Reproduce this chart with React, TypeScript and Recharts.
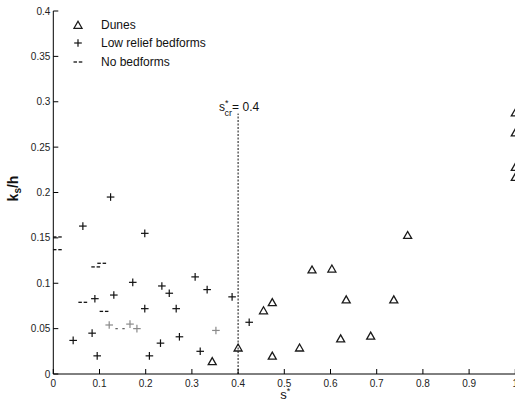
import React from 'react';
import { ScatterChart, Scatter, XAxis, YAxis, ReferenceLine, ReferenceDot, Legend } from 'recharts';

const FONT = '"Liberation Sans", Arial, Helvetica, sans-serif';

// Dunes (open triangles)
const dunes = [
  { x: 0.344, y: 0.014 }, { x: 0.400, y: 0.029 }, { x: 0.455, y: 0.070 }, { x: 0.474, y: 0.079 },
  { x: 0.474, y: 0.020 }, { x: 0.533, y: 0.029 }, { x: 0.560, y: 0.115 }, { x: 0.603, y: 0.116 },
  { x: 0.622, y: 0.039 }, { x: 0.634, y: 0.082 }, { x: 0.687, y: 0.042 }, { x: 0.737, y: 0.082 },
  { x: 0.767, y: 0.153 }, { x: 1.0, y: 0.288 }, { x: 1.0, y: 0.266 }, { x: 1.0, y: 0.228 }, { x: 1.0, y: 0.217 },
];

// Low relief bedforms (plus)
const lowRelief = [
  { x: 0.124, y: 0.195 }, { x: 0.064, y: 0.163 }, { x: 0.198, y: 0.155 }, { x: 0.172, y: 0.101 },
  { x: 0.307, y: 0.107 }, { x: 0.235, y: 0.097 }, { x: 0.251, y: 0.089 }, { x: 0.333, y: 0.093 },
  { x: 0.387, y: 0.085 }, { x: 0.131, y: 0.087 }, { x: 0.090, y: 0.083 }, { x: 0.198, y: 0.072 },
  { x: 0.266, y: 0.072 }, { x: 0.084, y: 0.045 }, { x: 0.043, y: 0.037 }, { x: 0.095, y: 0.020 },
  { x: 0.208, y: 0.020 }, { x: 0.232, y: 0.034 }, { x: 0.273, y: 0.041 }, { x: 0.318, y: 0.025 },
  { x: 0.424, y: 0.057 },
];

// Low relief bedforms drawn faint (grey plus)
const lowReliefFaint = [
  { x: 0.121, y: 0.054 }, { x: 0.166, y: 0.055 }, { x: 0.181, y: 0.050 }, { x: 0.352, y: 0.048 },
];

// No bedforms (dashes)
const noBedforms = [
  { x: 0.009, y: 0.151 }, { x: 0.009, y: 0.137 }, { x: 0.092, y: 0.118 }, { x: 0.105, y: 0.122 },
  { x: 0.064, y: 0.079 }, { x: 0.110, y: 0.069 },
];

// faint small marks
const faintMarks = [
  { x: 0.137, y: 0.050 }, { x: 0.152, y: 0.050 },
];

const xTicks = [0, 0.1, 0.2, 0.3, 0.4, 0.5, 0.6, 0.7, 0.8, 0.9, 1];
const yTicks = [0, 0.05, 0.1, 0.15, 0.2, 0.25, 0.3, 0.35, 0.4];
const criticalS = 0.4;
const criticalLineTop = 0.287;

const legendItems = [
  { label: 'Dunes', kind: 'tri' },
  { label: 'Low relief bedforms', kind: 'plus' },
  { label: 'No bedforms', kind: 'dash' },
];

const Tri = ({ cx, cy }: any) => (
  <polygon
    points={`${cx - 4},${cy + 3.3} ${cx + 4},${cy + 3.3} ${cx},${cy - 3.7}`}
    fill="none" stroke="#1a1a1a" strokeWidth={1.3} strokeLinejoin="miter"
  />
);
const Plus = ({ cx, cy, color = '#111' }: any) => (
  <g stroke={color} strokeWidth={1.2}>
    <line x1={cx - 3.8} x2={cx + 3.8} y1={cy} y2={cy} />
    <line x1={cx} x2={cx} y1={cy - 3.8} y2={cy + 3.8} />
  </g>
);
const Dash = ({ cx, cy }: any) => (
  <g stroke="#111" strokeWidth={1.3}>
    <line x1={cx - 4.5} x2={cx - 1} y1={cy} y2={cy} />
    <line x1={cx + 0.8} x2={cx + 4.3} y1={cy} y2={cy} />
  </g>
);
const TinyMark = ({ cx, cy }: any) => (
  <line x1={cx - 1.2} x2={cx + 1.2} y1={cy} y2={cy} stroke="#666" strokeWidth={1.3} />
);

const XTick = (props: any) => {
  const { x, y, payload } = props;
  return (
    <g>
      <line x1={x} x2={x} y1={y} y2={y - 5} stroke="#000" strokeWidth={1} />
      <text x={x} y={y + 13} textAnchor="middle" fontSize={10} fill="#222" fontFamily={FONT}>
        {payload.value}
      </text>
    </g>
  );
};

const YTick = (props: any) => {
  const { x, y, payload } = props;
  return (
    <g>
      <line x1={x} x2={x + 5} y1={y} y2={y} stroke="#000" strokeWidth={1} />
      <text x={x - 3} y={y} dy="0.35em" textAnchor="end" fontSize={10} fill="#222" fontFamily={FONT}>
        {payload.value}
      </text>
    </g>
  );
};

const XLabel = (props: any) => {
  const vb = props.viewBox || { x: 53, y: 374, width: 462, height: 30 };
  return (
    <text x={vb.x + vb.width / 2 + 1} y={vb.y + 25} textAnchor="middle" fontSize={13} fill="#111" fontFamily={FONT}>
      s<tspan dy={-5} fontSize={9}>*</tspan>
    </text>
  );
};

const YLabel = (props: any) => {
  const vb = props.viewBox || { x: 0, y: 11, width: 53, height: 363 };
  const cx = 18;
  const cy = vb.y + vb.height / 2 - 4;
  return (
    <text x={cx} y={cy} transform={`rotate(-90 ${cx} ${cy})`} textAnchor="middle" fontSize={14}
      fontWeight="bold" fill="#111" fontFamily={FONT}>
      k<tspan dy={3} fontSize={10}>s</tspan><tspan dy={-3}>/h</tspan>
    </text>
  );
};

const CrLabel = ({ cx, cy }: any) => (
  <text x={cx - 19} y={cy - 3} fontSize={12} fill="#111" fontFamily={FONT}>
    s<tspan dy={-5} fontSize={9}>*</tspan><tspan dx={-4} dy={10} fontSize={9}>cr</tspan><tspan dy={-5}>= 0.4</tspan>
  </text>
);

const LegendIcon = ({ kind }: { kind: string }) => (
  <svg width={16} height={16} style={{ display: 'block' }}>
    {kind === 'tri' && <Tri cx={8} cy={8} />}
    {kind === 'plus' && <Plus cx={8} cy={8} />}
    {kind === 'dash' && <Dash cx={8} cy={8} />}
  </svg>
);

const LegendContent = () => (
  <div style={{ fontFamily: FONT, fontSize: 12, color: '#111' }}>
    {legendItems.map((it) => (
      <div key={it.label} style={{ display: 'flex', alignItems: 'center', height: 18.5 }}>
        <LegendIcon kind={it.kind} />
        <span style={{ marginLeft: 15, whiteSpace: 'nowrap' }}>{it.label}</span>
      </div>
    ))}
  </div>
);

export default function App() {
  return (
    <div style={{ position: 'absolute', left: 0, top: 0, width: 515, height: 404, overflow: 'hidden', background: '#fff', fontFamily: FONT }}>
      <ScatterChart width={530} height={404} margin={{ top: 11, right: 14.7, left: 0, bottom: 0 }}>
        <XAxis
          type="number" dataKey="x" domain={[0, 1]} ticks={xTicks} interval={0}
          tickLine={false} tickSize={0} tickMargin={0} height={30}
          axisLine={{ stroke: '#000', strokeWidth: 1 }} tick={XTick} label={{ content: XLabel }}
        />
        <YAxis
          type="number" dataKey="y" domain={[0, 0.4]} ticks={yTicks} interval={0}
          tickLine={false} tickSize={0} tickMargin={0} width={53.3}
          axisLine={{ stroke: '#000', strokeWidth: 1 }} tick={YTick} label={{ content: YLabel }}
        />
        <ReferenceLine
          segment={[{ x: criticalS, y: 0 }, { x: criticalS, y: criticalLineTop }]}
          stroke="#111" strokeWidth={1} strokeDasharray="2 1.5"
        />
        <ReferenceDot x={criticalS} y={criticalLineTop} r={0} fill="none" stroke="none" shape={CrLabel} />
        <Scatter name="Dunes" data={dunes} shape={Tri} isAnimationActive={false} />
        <Scatter name="Low relief bedforms" data={lowRelief} shape={Plus} isAnimationActive={false} />
        <Scatter name="Low relief (faint)" data={lowReliefFaint} shape={(p: any) => <Plus {...p} color="#8a8a8a" />} isAnimationActive={false} />
        <Scatter name="No bedforms" data={noBedforms} shape={Dash} isAnimationActive={false} />
        <Scatter name="faint" data={faintMarks} shape={TinyMark} isAnimationActive={false} />
        <Legend
          layout="vertical" align="center" verticalAlign="middle" content={LegendContent}
          wrapperStyle={{ left: 70, top: 15.5, width: 'auto', height: 'auto', right: 'auto', bottom: 'auto' }}
        />
      </ScatterChart>
    </div>
  );
}
